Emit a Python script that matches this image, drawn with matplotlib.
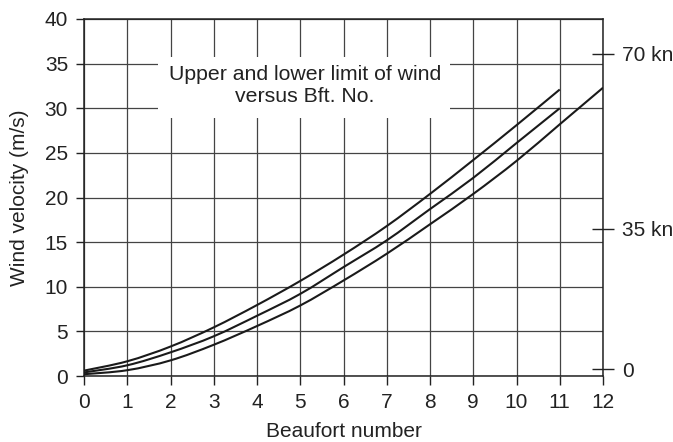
import numpy as np
import matplotlib
matplotlib.use("Agg")
import matplotlib.pyplot as plt
from matplotlib.path import Path
from matplotlib.patches import PathPatch, Rectangle

plt.rcParams['font.family'] = ['Liberation Sans', 'DejaVu Sans']

# Beaufort number and wind velocity limits (m/s)
bft_upper = [0, 1, 2, 3, 4, 5, 6, 7, 8, 9, 10, 11]
upper_limit = [0.6, 1.65, 3.3, 5.45, 7.95, 10.65, 13.6, 16.8, 20.4, 24.2, 28.1, 32.1]

bft_mean = [0, 1, 2, 3, 4, 5, 6, 7, 8, 9, 10, 11]
mean_velocity = [0.4, 1.2, 2.65, 4.45, 6.75, 9.2, 12.2, 15.2, 18.7, 22.2, 26.1, 30.0]

bft_lower = [0, 1, 2, 3, 4, 5, 6, 7, 8, 9, 10, 11, 12]
lower_limit = [0.2, 0.65, 1.75, 3.5, 5.6, 7.9, 10.7, 13.7, 17.0, 20.4, 24.1, 28.2, 32.3]

x_ticks = list(range(0, 13))
y_ticks = [0, 5, 10, 15, 20, 25, 30, 35, 40]
knot_tick_pos = [0.75, 16.5, 36.1]
knot_tick_labels = ["0", "35 kn", "70 kn"]


def smooth_path(xs, ys):
    """Catmull-Rom curve through the points, as cubic Bezier segments."""
    p = np.column_stack([xs, ys]).astype(float)
    n = len(p)
    verts = [p[0]]
    codes = [Path.MOVETO]
    for i in range(n - 1):
        p0 = p[i - 1] if i > 0 else p[i]
        p1 = p[i]
        p2 = p[i + 1]
        p3 = p[i + 2] if i + 2 < n else p[i + 1]
        c1 = p1 + (p2 - p0) / 6.0
        c2 = p2 - (p3 - p1) / 6.0
        verts += [c1, c2, p2]
        codes += [Path.CURVE4] * 3
    return Path(verts, codes)


FS = 15
TXT = '#222222'

fig = plt.figure(figsize=(6.73, 4.42), dpi=100)
ax = fig.add_axes([84 / 673, 66 / 442, 519 / 673, 357 / 442])

ax.set_xlim(0, 12)
ax.set_ylim(0, 40)
ax.set_xticks(x_ticks)
ax.set_yticks(y_ticks)
ax.tick_params(axis='both', direction='out', labelsize=FS, color=TXT,
               labelcolor=TXT, width=1.0)
ax.tick_params(axis='x', length=6.5, pad=6)
ax.tick_params(axis='y', length=6, pad=5.5)
ax.grid(True, color='#444444', linewidth=0.9, zorder=0.5)
ax.set_axisbelow(True)
for sp in ax.spines.values():
    sp.set_color(TXT)
    sp.set_linewidth(1.1)

for xs, ys in [(bft_upper, upper_limit), (bft_mean, mean_velocity), (bft_lower, lower_limit)]:
    ax.add_patch(PathPatch(smooth_path(xs, ys), facecolor='none',
                           edgecolor='#1a1a1a', linewidth=1.5, zorder=3))

# caption box covering the grid
ax.add_patch(Rectangle((74 / 519, (376 - 118) / 357), 292 / 519, 61 / 357,
                       transform=ax.transAxes, facecolor='white',
                       edgecolor='none', zorder=1.5))
ax.text(221 / 519, (376 - 86) / 357, "Upper and lower limit of wind\nversus Bft. No.",
        transform=ax.transAxes, ha='center', va='center', fontsize=15.3,
        color=TXT, linespacing=1.2, zorder=2)

ax.set_xlabel("Beaufort number", fontsize=FS, color=TXT, labelpad=7)
ax.set_ylabel("Wind velocity (m/s)", fontsize=FS, color=TXT, labelpad=11)

# knots scale on the right
ax2 = ax.twinx()
ax2.set_ylim(0, 40)
ax2.set_yticks(knot_tick_pos)
ax2.set_yticklabels(knot_tick_labels)
ax2.tick_params(axis='y', direction='inout', length=16, width=1.0, pad=6,
                labelsize=FS, color=TXT, labelcolor=TXT)
for sp in ax2.spines.values():
    sp.set_visible(False)

fig.savefig("out.png", dpi=100)
